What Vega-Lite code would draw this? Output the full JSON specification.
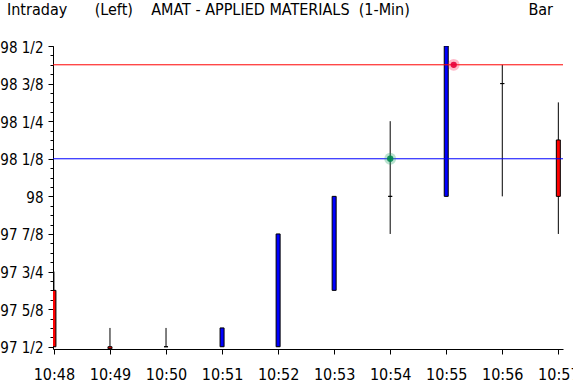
{
  "$schema": "https://vega.github.io/schema/vega-lite/v6.json",
  "autosize": "none",
  "width": 510,
  "height": 303,
  "padding": {"left": 53, "top": 46, "right": 10, "bottom": 37},
  "background": "white",
  "config": {
    "view": {"stroke": null},
    "font": "Liberation Sans Narrow, DejaVu Sans Condensed, sans-serif"
  },
  "datasets": {
    "candles": [
      {"t": "2024-01-01T10:48:00", "open": 97.6875, "close": 97.5, "high": 97.75, "low": 97.5, "dir": "down"},
      {"t": "2024-01-01T10:49:00", "open": 97.5, "close": 97.4935, "high": 97.5625, "low": 97.4935, "dir": "down"},
      {"t": "2024-01-01T10:50:00", "open": 97.5, "close": 97.5, "high": 97.5625, "low": 97.5, "dir": "flat"},
      {"t": "2024-01-01T10:51:00", "open": 97.5, "close": 97.5625, "high": 97.5625, "low": 97.5, "dir": "up"},
      {"t": "2024-01-01T10:52:00", "open": 97.5, "close": 97.875, "high": 97.875, "low": 97.5, "dir": "up"},
      {"t": "2024-01-01T10:53:00", "open": 97.6875, "close": 98, "high": 98, "low": 97.6875, "dir": "up"},
      {"t": "2024-01-01T10:54:00", "open": 98, "close": 98, "high": 98.25, "low": 97.875, "dir": "flat"},
      {"t": "2024-01-01T10:55:00", "open": 98, "close": 98.5, "high": 98.5, "low": 98, "dir": "up"},
      {"t": "2024-01-01T10:56:00", "open": 98.375, "close": 98.375, "high": 98.4375, "low": 98, "dir": "flat"},
      {"t": "2024-01-01T10:57:00", "open": 98.1875, "close": 98, "high": 98.3125, "low": 97.875, "dir": "down"}
    ],
    "levels": [
      {"level": 98.4375, "kind": "resistance"},
      {"level": 98.125, "kind": "support"}
    ],
    "marks": [
      {"t": "2024-01-01T10:54:00", "price": 98.125, "kind": "buy"},
      {"t": "2024-01-01T10:55:08", "price": 98.4375, "kind": "sell"}
    ]
  },
  "resolve": {"scale": {"color": "independent"}, "axis": {"y": "independent"}},
  "layer": [
    {
      "data": {"name": "candles"},
      "mark": {"type": "rule", "color": "black", "strokeWidth": 1, "clip": true},
      "encoding": {
        "x": {
          "field": "t", "type": "temporal",
          "scale": {"domain": [{"year": 2024, "month": 1, "date": 1, "hours": 10, "minutes": 47, "seconds": 59}, {"year": 2024, "month": 1, "date": 1, "hours": 10, "minutes": 57, "seconds": 5}], "padding": 0, "nice": false},
          "axis": {
            "title": null,
            "format": "%H:%M",
            "values": [
              {"year": 2024, "month": 1, "date": 1, "hours": 10, "minutes": 48},
              {"year": 2024, "month": 1, "date": 1, "hours": 10, "minutes": 49},
              {"year": 2024, "month": 1, "date": 1, "hours": 10, "minutes": 50},
              {"year": 2024, "month": 1, "date": 1, "hours": 10, "minutes": 51},
              {"year": 2024, "month": 1, "date": 1, "hours": 10, "minutes": 52},
              {"year": 2024, "month": 1, "date": 1, "hours": 10, "minutes": 53},
              {"year": 2024, "month": 1, "date": 1, "hours": 10, "minutes": 54},
              {"year": 2024, "month": 1, "date": 1, "hours": 10, "minutes": 55},
              {"year": 2024, "month": 1, "date": 1, "hours": 10, "minutes": 56},
              {"year": 2024, "month": 1, "date": 1, "hours": 10, "minutes": 57}
            ],
            "grid": false,
            "domainColor": "black",
            "tickColor": "black",
            "tickSize": 5,
            "labelColor": "black",
            "labelFontSize": 16,
            "labelPadding": 12,
            "labelFlush": false,
            "labelOverlap": false
          }
        },
        "y": {
          "field": "low", "type": "quantitative",
          "scale": {"domain": [97.4925, 98.5], "zero": false, "nice": false},
          "axis": {
            "title": null,
            "orient": "left",
            "grid": false,
            "values": [97.5, 97.625, 97.75, 97.875, 98, 98.125, 98.25, 98.375, 98.5],
            "labelExpr": "datum.value == 98.5 ? '98\u00a01/2' : datum.value == 98.375 ? '98\u00a03/8' : datum.value == 98.25 ? '98\u00a01/4' : datum.value == 98.125 ? '98\u00a01/8' : datum.value == 98 ? '98' : datum.value == 97.875 ? '97\u00a07/8' : datum.value == 97.75 ? '97\u00a03/4' : datum.value == 97.625 ? '97\u00a05/8' : datum.value == 97.5 ? '97\u00a01/2' : ''",
            "domainColor": "black",
            "tickColor": "black",
            "tickSize": 5,
            "labelColor": "black",
            "labelFontSize": 15,
            "labelPadding": 5,
            "labelOffset": 1,
            "labelFlush": false,
            "labelOverlap": false
          }
        },
        "y2": {"field": "high"}
      }
    },
    {
      "data": {"name": "candles"},
      "mark": {"type": "bar", "size": 4, "stroke": "black", "strokeWidth": 1, "clip": true},
      "encoding": {
        "x": {"field": "t", "type": "temporal"},
        "y": {"field": "open", "type": "quantitative", "axis": null},
        "y2": {"field": "close"},
        "color": {
          "field": "dir", "type": "nominal", "legend": null,
          "scale": {"domain": ["up", "down", "flat"], "range": ["#0000ff", "#ff0000", "#000000"]}
        }
      }
    },
    {
      "data": {"name": "levels"},
      "mark": {"type": "rule", "strokeWidth": 1},
      "encoding": {
        "y": {
          "field": "level", "type": "quantitative",
          "axis": {
            "title": null,
            "orient": "left",
            "grid": false,
            "labels": false,
            "domain": false,
            "values": [97.5, 97.53125, 97.5625, 97.59375, 97.625, 97.65625, 97.6875, 97.71875, 97.75, 97.78125, 97.8125, 97.84375, 97.875, 97.90625, 97.9375, 97.96875, 98, 98.03125, 98.0625, 98.09375, 98.125, 98.15625, 98.1875, 98.21875, 98.25, 98.28125, 98.3125, 98.34375, 98.375, 98.40625, 98.4375, 98.46875, 98.5],
            "tickColor": "black",
            "tickSize": 3
          }
        },
        "color": {
          "field": "kind", "type": "nominal", "legend": null,
          "scale": {"domain": ["resistance", "support"], "range": ["#ff0000", "#0000ff"]}
        }
      }
    },
    {
      "data": {"name": "marks"},
      "mark": {"type": "point", "filled": true, "shape": "circle", "size": 140, "opacity": 0.3},
      "encoding": {
        "x": {"field": "t", "type": "temporal"},
        "y": {"field": "price", "type": "quantitative", "axis": null},
        "color": {
          "field": "kind", "type": "nominal", "legend": null,
          "scale": {"domain": ["buy", "sell"], "range": ["#1aa064", "#ff1a50"]}
        }
      }
    },
    {
      "data": {"name": "marks"},
      "mark": {"type": "point", "filled": true, "shape": "circle", "size": 40, "opacity": 0.9},
      "encoding": {
        "x": {"field": "t", "type": "temporal"},
        "y": {"field": "price", "type": "quantitative", "axis": null},
        "color": {
          "field": "kind", "type": "nominal", "legend": null,
          "scale": {"domain": ["buy", "sell"], "range": ["#008a4e", "#e8003a"]}
        }
      }
    },
    {
      "data": {"values": [{"label": "Intraday\u00a0\u00a0\u00a0\u00a0\u00a0\u00a0(Left)\u00a0\u00a0\u00a0\u00a0AMAT - APPLIED MATERIALS\u00a0\u00a0(1-Min)"}]},
      "mark": {"type": "text", "align": "left", "baseline": "alphabetic", "dx": -46, "dy": -31, "fontSize": 16, "color": "black"},
      "encoding": {
        "x": {"datum": {"year": 2024, "month": 1, "date": 1, "hours": 10, "minutes": 47, "seconds": 59}, "type": "temporal"},
        "y": {"datum": 98.5, "type": "quantitative", "axis": null},
        "text": {"field": "label"}
      }
    },
    {
      "data": {"values": [{"label": "Bar"}]},
      "mark": {"type": "text", "align": "right", "baseline": "alphabetic", "dx": -10, "dy": -31, "fontSize": 16, "color": "black"},
      "encoding": {
        "x": {"datum": {"year": 2024, "month": 1, "date": 1, "hours": 10, "minutes": 57, "seconds": 5}, "type": "temporal"},
        "y": {"datum": 98.5, "type": "quantitative", "axis": null},
        "text": {"field": "label"}
      }
    }
  ]
}
